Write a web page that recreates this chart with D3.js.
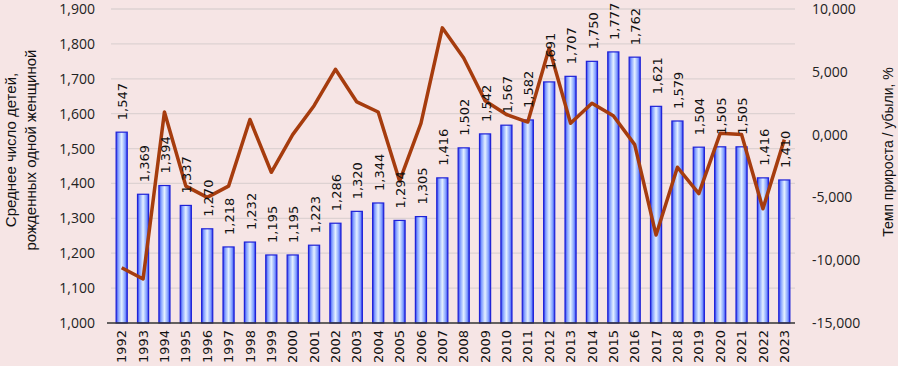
<!DOCTYPE html>
<html>
<head>
<meta charset="utf-8">
<script src="https://cdn.jsdelivr.net/npm/d3@7"></script>
<style>
  body { margin: 0; background: #f6e5e5; }
  svg { display: block; }
</style>
</head>
<body>
<div id="chart"></div>
<script>
// years on the x axis
const years = [1992, 1993, 1994, 1995, 1996, 1997, 1998, 1999, 2000, 2001, 2002,
  2003, 2004, 2005, 2006, 2007, 2008, 2009, 2010, 2011, 2012, 2013, 2014, 2015,
  2016, 2017, 2018, 2019, 2020, 2021, 2022, 2023];

// average number of children per woman (bars, left axis)
const births = [1.547, 1.369, 1.394, 1.337, 1.270, 1.218, 1.232, 1.195, 1.195, 1.223,
  1.286, 1.320, 1.344, 1.294, 1.305, 1.416, 1.502, 1.542, 1.567, 1.582, 1.691,
  1.707, 1.750, 1.777, 1.762, 1.621, 1.579, 1.504, 1.505, 1.505, 1.416, 1.410];

// growth / decline rate, % (line, right axis)
const growth = [-10.6, -11.5, 1.8, -4.1, -5.0, -4.1, 1.2, -3.0, 0.0, 2.3, 5.2,
  2.6, 1.8, -3.7, 0.9, 8.5, 6.1, 2.7, 1.6, 1.0, 6.9, 0.9, 2.5, 1.5,
  -0.8, -8.0, -2.6, -4.7, 0.1, 0.0, -5.9, -0.4];

const leftTicks = [1.0, 1.1, 1.2, 1.3, 1.4, 1.5, 1.6, 1.7, 1.8, 1.9];
const rightTicks = [-15, -10, -5, 0, 5, 10];

const leftTitle = ["Среднее число детей,", "рожденных одной женщиной"];
const rightTitle = "Темп прироста / убыли, %";

const width = 898,
      height = 366,
      margin = ({ top: 9, right: 103, bottom: 43, left: 111 });

const ru = d3.formatLocale({ decimal: ",", thousands: " ", grouping: [3], currency: ["", ""], minus: "-" });
const fmt = ru.format(".3f");

let svg = d3.select("#chart")
    .append("svg")
    .attr("width", width)
    .attr("height", height);

svg.append("rect")
    .attr("width", width)
    .attr("height", height)
    .attr("fill", "#f6e5e5");

// bar gradient
let grad = svg.append("defs").append("linearGradient")
    .attr("id", "barGrad")
    .attr("x1", "0%").attr("x2", "100%")
    .attr("y1", "0%").attr("y2", "0%");
[["0%", "#2b35e6"], ["18%", "#7f9cff"], ["50%", "#e4f1ff"], ["82%", "#7f9cff"], ["100%", "#2b35e6"]]
    .forEach(s => grad.append("stop").attr("offset", s[0]).attr("stop-color", s[1]));

let x = d3.scaleBand()
    .domain(years)
    .range([margin.left, width - margin.right])
    .paddingInner(0.48)
    .paddingOuter(0.24);

let y = d3.scaleLinear()
    .domain([1.0, 1.9])
    .range([height - margin.bottom, margin.top]);

let y2 = d3.scaleLinear()
    .domain([-15, 10])
    .range([height - margin.bottom, margin.top]);

// grid lines
svg.append("g")
    .selectAll("line")
    .data(leftTicks.slice(1))
    .join("line")
    .attr("x1", margin.left)
    .attr("x2", width - margin.right)
    .attr("y1", d => y(d))
    .attr("y2", d => y(d))
    .attr("stroke", "#ddd2d2")
    .attr("stroke-width", 1.3);

// left axis
let yAxis = svg.append("g")
    .attr("transform", `translate(${margin.left - 16},0)`)
    .call(d3.axisLeft(y).tickValues(leftTicks).tickFormat(fmt).tickSize(0).tickPadding(0));
yAxis.select(".domain").remove();
yAxis.selectAll("text")
    .style("font-family", "'Open Sans', sans-serif")
    .style("font-size", "14px")
    .attr("fill", "#222");

// right axis
let yAxis2 = svg.append("g")
    .attr("transform", `translate(${width - margin.right + 17},0)`)
    .call(d3.axisRight(y2).tickValues(rightTicks).tickFormat(fmt).tickSize(0).tickPadding(0));
yAxis2.select(".domain").remove();
yAxis2.selectAll("text")
    .style("font-family", "'Open Sans', sans-serif")
    .style("font-size", "14px")
    .attr("fill", "#222");

// bars
svg.append("g")
    .selectAll("rect")
    .data(years)
    .join("rect")
    .attr("x", (d, i) => x(d))
    .attr("width", x.bandwidth())
    .attr("y", (d, i) => y(births[i]))
    .attr("height", (d, i) => y(1.0) - y(births[i]))
    .attr("fill", "url(#barGrad)")
    .attr("stroke", "#1f22d8")
    .attr("stroke-width", 1.2);

// x axis
let xAxis = svg.append("g")
    .attr("transform", `translate(0,${height - margin.bottom})`)
    .call(d3.axisBottom(x).tickSize(0).tickPadding(0));
xAxis.select(".domain")
    .attr("stroke", "#333")
    .attr("stroke-width", 1.3)
    .attr("d", `M${margin.left - 4},0H${width - margin.right}`);
xAxis.selectAll("text")
    .style("font-family", "'DejaVu Sans', sans-serif")
    .style("font-size", "13px")
    .attr("fill", "#111")
    .attr("text-anchor", "end")
    .attr("transform", "rotate(-90)")
    .attr("x", -7)
    .attr("y", 0)
    .attr("dy", "0.35em");

// growth line
let line = d3.line()
    .x((d, i) => x(years[i]) + x.bandwidth() / 2)
    .y(d => y2(d));

svg.append("path")
    .datum(growth)
    .attr("fill", "none")
    .attr("stroke", "#a63c0e")
    .attr("stroke-width", 3.5)
    .attr("stroke-linejoin", "round")
    .attr("d", line);

// value labels
svg.append("g")
    .selectAll("text")
    .data(years)
    .join("text")
    .text((d, i) => fmt(births[i]))
    .attr("transform", (d, i) => `translate(${x(d) + x.bandwidth() / 2 + 1},${y(births[i]) - 12}) rotate(-90)`)
    .attr("dy", "0.35em")
    .style("font-family", "'DejaVu Sans', sans-serif")
    .style("font-size", "13px")
    .attr("fill", "#111");

// axis titles
svg.append("text")
    .attr("transform", "translate(16,150) rotate(-90)")
    .attr("text-anchor", "middle")
    .style("font-family", "'Liberation Sans', Arial, sans-serif")
    .style("font-size", "15px")
    .attr("fill", "#111")
    .selectAll("tspan")
    .data(leftTitle)
    .join("tspan")
    .attr("x", 0)
    .attr("dy", (d, i) => i === 0 ? 0 : 20)
    .text(d => d);

svg.append("text")
    .attr("transform", "translate(893,152) rotate(-90)")
    .attr("text-anchor", "middle")
    .style("font-family", "'Liberation Sans', Arial, sans-serif")
    .style("font-size", "14px")
    .attr("fill", "#111")
    .text(rightTitle);
</script>
</body>
</html>
